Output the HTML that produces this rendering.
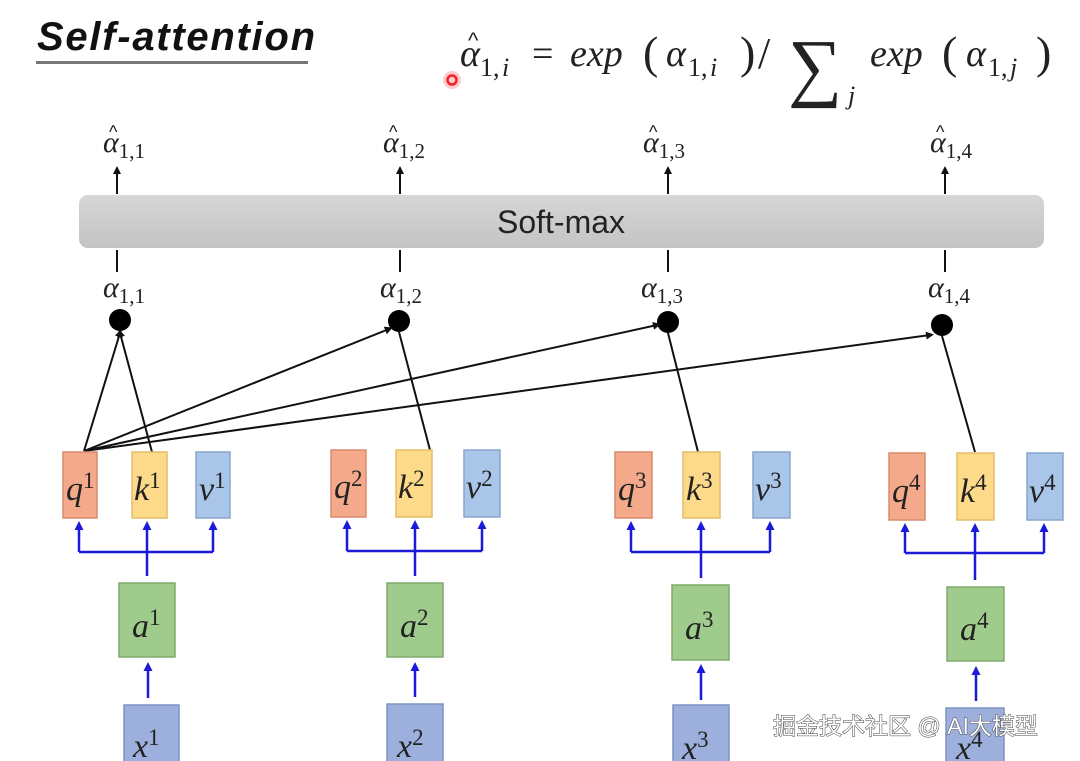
<!DOCTYPE html>
<html><head><meta charset="utf-8"><style>
html,body{margin:0;padding:0;background:#fff;}
svg{display:block;}
.m{font-family:"Liberation Serif",serif;font-style:italic;fill:#222;}
.s{font-family:"Liberation Serif",serif;font-style:normal;fill:#222;}
.h{font-family:"Liberation Sans",sans-serif;font-style:normal;fill:#222;}
</style></head><body>
<svg width="1080" height="761" viewBox="0 0 1080 761" xmlns="http://www.w3.org/2000/svg">
<defs>
<marker id="ab" markerWidth="8" markerHeight="8" refX="4" refY="4" orient="auto" markerUnits="userSpaceOnUse"><path d="M0,0 L8,4 L0,8 z" fill="#111"/></marker>
<marker id="bb" markerWidth="9" markerHeight="9" refX="5" refY="4.5" orient="auto" markerUnits="userSpaceOnUse"><path d="M0,0 L9,4.5 L0,9 z" fill="#1a1ad8"/></marker>
<linearGradient id="g" x1="0" y1="0" x2="0" y2="1"><stop offset="0" stop-color="#d6d6d6"/><stop offset="1" stop-color="#c4c4c4"/></linearGradient>
</defs>
<text x="37" y="50" font-family="Liberation Sans,sans-serif" font-weight="bold" font-style="italic" font-size="40" fill="#111" textLength="278" lengthAdjust="spacing">Self-attention</text>
<rect x="36" y="61" width="272" height="3" fill="#777"/>
<circle cx="452" cy="80" r="9" fill="#f66" opacity="0.35"/>
<circle cx="452" cy="80" r="4.5" fill="none" stroke="#e22" stroke-width="2.5"/>

<g class="m" font-size="38">
<text x="460" y="66">α</text>
<text x="468" y="48" class="h" font-size="22">^</text>
<text x="480" y="76" class="s" font-size="26">1,</text><text x="502" y="76" font-size="26">i</text>
<text x="532" y="66" class="s">=</text>
<text x="570" y="66">exp</text>
<text x="643" y="68" class="s" font-size="46">(</text>
<text x="666" y="66">α</text>
<text x="688" y="76" class="s" font-size="26">1,</text><text x="710" y="76" font-size="26">i</text>
<text x="740" y="68" class="s" font-size="46">)</text>
<text x="758" y="68" class="s" font-size="44">/</text>
<text x="788" y="92" class="s" font-size="76">∑</text>
<text x="848" y="104" font-size="26">j</text>
<text x="870" y="66">exp</text>
<text x="942" y="68" class="s" font-size="46">(</text>
<text x="966" y="66">α</text>
<text x="988" y="76" class="s" font-size="26">1,</text><text x="1010" y="76" font-size="26">j</text>
<text x="1036" y="68" class="s" font-size="46">)</text>
</g>

<rect x="79" y="195" width="965" height="53" rx="9" fill="url(#g)"/>
<text x="561" y="233" text-anchor="middle" font-family="Liberation Sans,sans-serif" font-size="32" fill="#222">Soft-max</text>

<g stroke="#111" stroke-width="2">
<line x1="117" y1="194" x2="117" y2="170" marker-end="url(#ab)"/>
<line x1="400" y1="194" x2="400" y2="170" marker-end="url(#ab)"/>
<line x1="668" y1="194" x2="668" y2="170" marker-end="url(#ab)"/>
<line x1="945" y1="194" x2="945" y2="170" marker-end="url(#ab)"/>
<line x1="117" y1="250" x2="117" y2="272"/>
<line x1="400" y1="250" x2="400" y2="272"/>
<line x1="668" y1="250" x2="668" y2="272"/>
<line x1="945" y1="250" x2="945" y2="272"/>
</g>
<g class="m" font-size="30">
<text x="103" y="152">α<tspan font-size="21" dy="6" font-style="normal">1,1</tspan></text>
<text x="383" y="152">α<tspan font-size="21" dy="6" font-style="normal">1,2</tspan></text>
<text x="643" y="152">α<tspan font-size="21" dy="6" font-style="normal">1,3</tspan></text>
<text x="930" y="152">α<tspan font-size="21" dy="6" font-style="normal">1,4</tspan></text>
<text x="103" y="297">α<tspan font-size="21" dy="6" font-style="normal">1,1</tspan></text>
<text x="380" y="297">α<tspan font-size="21" dy="6" font-style="normal">1,2</tspan></text>
<text x="641" y="297">α<tspan font-size="21" dy="6" font-style="normal">1,3</tspan></text>
<text x="928" y="297">α<tspan font-size="21" dy="6" font-style="normal">1,4</tspan></text>
</g>
<g class="h" font-size="18">
<text x="109" y="138">^</text><text x="389" y="138">^</text><text x="649" y="138">^</text><text x="936" y="138">^</text>
</g>
<g fill="#000">
<circle cx="120" cy="320" r="11"/><circle cx="399" cy="321" r="11"/><circle cx="668" cy="322" r="11"/><circle cx="942" cy="325" r="11"/>
</g>
<g stroke="#111" stroke-width="2" fill="none">
<line x1="84" y1="451" x2="120" y2="333" marker-end="url(#ab)"/>
<line x1="152" y1="452" x2="120" y2="333" marker-end="url(#ab)"/>
<line x1="84" y1="451" x2="389" y2="329" marker-end="url(#ab)"/>
<line x1="430" y1="450" x2="399" y2="332" />
<line x1="84" y1="451" x2="657" y2="325" marker-end="url(#ab)"/>
<line x1="698" y1="452" x2="668" y2="333"/>
<line x1="84" y1="451" x2="930" y2="335" marker-end="url(#ab)"/>
<line x1="975" y1="452" x2="942" y2="336"/>
</g>

<g stroke-width="1.5">
<rect x="63" y="452" width="34" height="66" fill="#f4a98a" stroke="#d88a6c"/>
<rect x="132" y="452" width="35" height="66" fill="#fdd98a" stroke="#e3bd6a"/>
<rect x="196" y="452" width="34" height="66" fill="#a9c6e8" stroke="#86a6cc"/>
<rect x="331" y="450" width="35" height="67" fill="#f4a98a" stroke="#d88a6c"/>
<rect x="396" y="450" width="36" height="67" fill="#fdd98a" stroke="#e3bd6a"/>
<rect x="464" y="450" width="36" height="67" fill="#a9c6e8" stroke="#86a6cc"/>
<rect x="615" y="452" width="37" height="66" fill="#f4a98a" stroke="#d88a6c"/>
<rect x="683" y="452" width="37" height="66" fill="#fdd98a" stroke="#e3bd6a"/>
<rect x="753" y="452" width="37" height="66" fill="#a9c6e8" stroke="#86a6cc"/>
<rect x="889" y="453" width="36" height="67" fill="#f4a98a" stroke="#d88a6c"/>
<rect x="957" y="453" width="37" height="67" fill="#fdd98a" stroke="#e3bd6a"/>
<rect x="1027" y="453" width="36" height="67" fill="#a9c6e8" stroke="#86a6cc"/>
<rect x="119" y="583" width="56" height="74" fill="#9fcb8c" stroke="#7fab6c"/>
<rect x="387" y="583" width="56" height="74" fill="#9fcb8c" stroke="#7fab6c"/>
<rect x="672" y="585" width="57" height="75" fill="#9fcb8c" stroke="#7fab6c"/>
<rect x="947" y="587" width="57" height="74" fill="#9fcb8c" stroke="#7fab6c"/>
<rect x="124" y="705" width="55" height="60" fill="#9db0dd" stroke="#7f92c0"/>
<rect x="387" y="704" width="56" height="60" fill="#9db0dd" stroke="#7f92c0"/>
<rect x="673" y="705" width="56" height="60" fill="#9db0dd" stroke="#7f92c0"/>
<rect x="946" y="708" width="58" height="60" fill="#9db0dd" stroke="#7f92c0"/>
</g>
<g stroke="#1a1ad8" stroke-width="2.5" fill="none">
<path d="M79,552 H213 M147,576 V552"/>
<line x1="79" y1="552" x2="79" y2="525" marker-end="url(#bb)"/><line x1="147" y1="552" x2="147" y2="525" marker-end="url(#bb)"/><line x1="213" y1="552" x2="213" y2="525" marker-end="url(#bb)"/>
<path d="M347,551 H482 M415,576 V551"/>
<line x1="347" y1="551" x2="347" y2="524" marker-end="url(#bb)"/><line x1="415" y1="551" x2="415" y2="524" marker-end="url(#bb)"/><line x1="482" y1="551" x2="482" y2="524" marker-end="url(#bb)"/>
<path d="M631,552 H770 M701,578 V552"/>
<line x1="631" y1="552" x2="631" y2="525" marker-end="url(#bb)"/><line x1="701" y1="552" x2="701" y2="525" marker-end="url(#bb)"/><line x1="770" y1="552" x2="770" y2="525" marker-end="url(#bb)"/>
<path d="M905,553 H1044 M975,580 V553"/>
<line x1="905" y1="553" x2="905" y2="527" marker-end="url(#bb)"/><line x1="975" y1="553" x2="975" y2="527" marker-end="url(#bb)"/><line x1="1044" y1="553" x2="1044" y2="527" marker-end="url(#bb)"/>
<line x1="148" y1="698" x2="148" y2="666" marker-end="url(#bb)"/>
<line x1="415" y1="697" x2="415" y2="666" marker-end="url(#bb)"/>
<line x1="701" y1="700" x2="701" y2="668" marker-end="url(#bb)"/>
<line x1="976" y1="701" x2="976" y2="670" marker-end="url(#bb)"/>
</g>
<g class="m" font-size="34">
<text x="66" y="500">q<tspan font-size="23" dy="-12" font-style="normal">1</tspan></text>
<text x="134" y="500">k<tspan font-size="23" dy="-12" font-style="normal">1</tspan></text>
<text x="199" y="500">v<tspan font-size="23" dy="-12" font-style="normal">1</tspan></text>
<text x="334" y="498">q<tspan font-size="23" dy="-12" font-style="normal">2</tspan></text>
<text x="398" y="498">k<tspan font-size="23" dy="-12" font-style="normal">2</tspan></text>
<text x="466" y="498">v<tspan font-size="23" dy="-12" font-style="normal">2</tspan></text>
<text x="618" y="500">q<tspan font-size="23" dy="-12" font-style="normal">3</tspan></text>
<text x="686" y="500">k<tspan font-size="23" dy="-12" font-style="normal">3</tspan></text>
<text x="755" y="500">v<tspan font-size="23" dy="-12" font-style="normal">3</tspan></text>
<text x="892" y="502">q<tspan font-size="23" dy="-12" font-style="normal">4</tspan></text>
<text x="960" y="502">k<tspan font-size="23" dy="-12" font-style="normal">4</tspan></text>
<text x="1029" y="502">v<tspan font-size="23" dy="-12" font-style="normal">4</tspan></text>
<text x="132" y="637">a<tspan font-size="23" dy="-12" font-style="normal">1</tspan></text>
<text x="400" y="637">a<tspan font-size="23" dy="-12" font-style="normal">2</tspan></text>
<text x="685" y="639">a<tspan font-size="23" dy="-12" font-style="normal">3</tspan></text>
<text x="960" y="640">a<tspan font-size="23" dy="-12" font-style="normal">4</tspan></text>
<text x="133" y="757">x<tspan font-size="23" dy="-12" font-style="normal">1</tspan></text>
<text x="397" y="757">x<tspan font-size="23" dy="-12" font-style="normal">2</tspan></text>
<text x="682" y="759">x<tspan font-size="23" dy="-12" font-style="normal">3</tspan></text>
<text x="956" y="759">x<tspan font-size="23" dy="-12" font-style="normal">4</tspan></text>
</g>
<text x="773" y="734" font-family="Liberation Sans,'Noto Sans CJK SC',sans-serif" font-size="23" fill="#fff" stroke="#444" stroke-width="1" paint-order="stroke">掘金技术社区 @ AI大模型</text>
</svg>
</body></html>
